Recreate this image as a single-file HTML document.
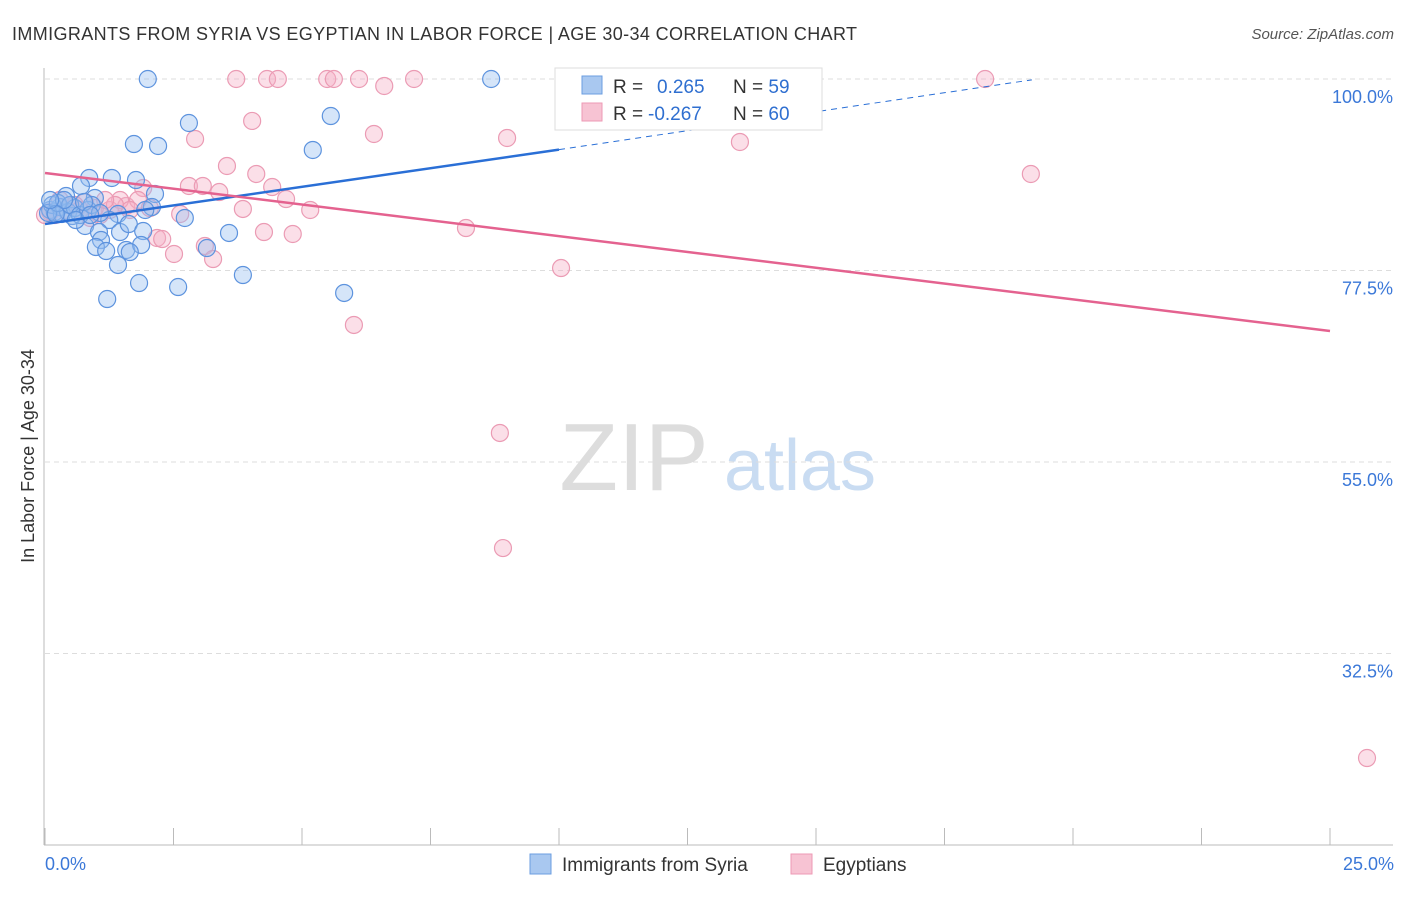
<!DOCTYPE html>
<html><head><meta charset="utf-8"><style>
body{margin:0;background:#fff;font-family:"Liberation Sans",sans-serif}
svg text{font-family:"Liberation Sans",sans-serif}
</style></head><body>
<svg id="c" width="1406" height="892">
<text x="12" y="40" font-size="18" fill="#333" textLength="845">IMMIGRANTS FROM SYRIA VS EGYPTIAN IN LABOR FORCE | AGE 30-34 CORRELATION CHART</text>
<text x="1394" y="39" font-size="15" fill="#555" font-style="italic" text-anchor="end">Source: ZipAtlas.com</text>
<text x="634" y="490" font-size="96" fill="#ddd" font-family="Liberation Serif" text-anchor="middle">ZIP</text>
<text x="800" y="490" font-size="72" fill="#c9dcf2" text-anchor="middle">atlas</text>
<g id="grid"></g><g id="pts"></g><g id="lines"></g>
<text x="34" y="456" font-size="18" fill="#333" transform="rotate(-90 34 456)" text-anchor="middle">In Labor Force | Age 30-34</text>
<text x="45" y="870" font-size="18" fill="#3b78d8">0.0%</text>
<text x="1394" y="870" font-size="18" fill="#3b78d8" text-anchor="end">25.0%</text>
<g>
<rect x="555" y="68" width="267" height="62" fill="#fff" stroke="#ddd"/>
<rect x="582" y="76" width="20" height="18" fill="#a9c8f0" stroke="#6b9ee0"/>
<rect x="582" y="103" width="20" height="18" fill="#f7c3d3" stroke="#ee9ab4"/>
<text x="613" y="93" font-size="19" fill="#333">R = <tspan fill="#2f6fd0" x="657">0.265</tspan><tspan x="733">N = </tspan><tspan fill="#2f6fd0">59</tspan></text>
<text x="613" y="120" font-size="19" fill="#333">R = <tspan fill="#2f6fd0" x="648">-0.267</tspan><tspan x="733">N = </tspan><tspan fill="#2f6fd0">60</tspan></text>
</g>
<g>
<rect x="530" y="854" width="21" height="20" fill="#a9c8f0" stroke="#6b9ee0"/>
<text x="562" y="871" font-size="19" fill="#333">Immigrants from Syria</text>
<rect x="791" y="854" width="21" height="20" fill="#f7c3d3" stroke="#ee9ab4"/>
<text x="823" y="871" font-size="19" fill="#333">Egyptians</text>
</g>
</svg>
<script>
const yTicks=[100,77.5,55,32.5];
const yTickLabels=["100.0%","77.5%","55.0%","32.5%"];
const blueX=[2.0,8.68,2.80,5.56,1.73,2.20,5.21,0.86,1.30,1.77,0.70,0.41,0.97,2.14,2.08,2.72,1.42,1.25,0.78,0.53,1.05,1.46,1.63,1.91,3.58,1.09,0.99,1.19,1.58,1.87,1.65,1.42,3.15,3.85,1.83,2.59,1.21,5.82,0.10,0.19,0.29,0.14,0.33,0.45,0.58,0.06,0.25,0.49,0.68,0.84,0.91,0.37,0.21,0.10,0.60,0.76,1.07,1.95,0.88];
const blueY=[100,100,94.83,95.65,92.36,92.13,91.66,88.37,88.37,88.13,87.43,86.25,86.02,86.49,84.96,83.67,84.14,83.43,82.73,83.90,82.02,82.02,82.96,82.14,81.91,81.08,80.26,79.79,79.91,80.50,79.67,78.15,80.14,76.97,76.03,75.56,74.15,74.86,84.61,84.37,84.96,85.20,84.14,84.37,84.84,84.26,85.43,85.20,84.02,84.61,85.20,85.78,84.14,85.78,83.43,85.55,84.26,84.61,84.02];
const pinkX=[3.72,4.32,4.53,5.49,5.62,6.11,7.18,6.60,10.39,18.29,4.03,2.92,6.40,8.99,13.52,3.54,4.11,19.18,1.91,2.80,3.07,3.39,4.42,4.69,3.85,5.16,8.19,4.26,4.82,2.18,2.63,2.28,3.11,2.51,3.27,10.04,6.01,8.85,8.91,25.72,1.58,1.81,1.26,0.97,0.78,0.58,0.39,0.19,0.10,0.29,0.49,1.07,1.46,1.65,2.04,1.36,0.88,0.68,1.17,0];
const pinkY=[100,100,100,100,100,100,100,99.18,100,100,95.07,92.95,93.54,93.07,92.60,89.78,88.84,88.84,87.19,87.43,87.43,86.72,87.31,85.90,84.73,84.61,82.49,82.02,81.79,81.32,84.14,81.20,80.38,79.44,78.85,77.79,71.10,58.41,44.89,20.22,85.08,85.78,84.61,84.84,85.55,85.20,84.61,84.02,84.37,85.78,85.20,84.02,85.78,84.61,84.84,85.20,83.67,84.61,85.78,84.02];
const blueTrend=[82.96,91.7,99.9]; const blueTrendX=[0,10,19.2];
const pinkTrend=[88.96,70.39]; const pinkTrendX=[0,25];
const xs=v=>45+v*51.4, ys=v=>79+(100-v)*8.511;
const NS="http://www.w3.org/2000/svg";
function mk(p,t,a){const e=document.createElementNS(NS,t);for(const k in a)e.setAttribute(k,a[k]);p.appendChild(e);return e;}
const grid=document.getElementById('grid');
yTicks.forEach((t,i)=>{
 const l=mk(grid,'line',{x1:45,x2:1393,y1:ys(t),y2:ys(t),stroke:'#ddd','stroke-dasharray':'5,4'});
 
 
 const tx=mk(grid,'text',{x:1393,y:ys(t)+24,'font-size':18,fill:'#3b78d8','text-anchor':'end'});tx.textContent=yTickLabels[i];
 
 
});
mk(grid,'line',{x1:44,x2:44,y1:68,y2:845,stroke:'#bbb'});
mk(grid,'line',{x1:44,x2:1393,y1:845,y2:845,stroke:'#bbb'});
for(let i=0;i<=10;i++){mk(grid,'line',{x1:xs(i*2.5),x2:xs(i*2.5),y1:828,y2:845,stroke:'#bbb'});}
const pts=document.getElementById('pts');
pinkX.forEach((x,i)=>{const c=mk(pts,'circle',{cx:xs(x),cy:ys(pinkY[i]),r:8.5,fill:'rgba(244,175,198,0.4)',stroke:'#eb9bb4','stroke-width':1.2});
 
 });
blueX.forEach((x,i)=>{const c=mk(pts,'circle',{cx:xs(x),cy:ys(blueY[i]),r:8.5,fill:'rgba(150,190,240,0.4)',stroke:'#5d93de','stroke-width':1.2});
 
 });
const ln=document.getElementById('lines');
const b1=mk(ln,'line',{x1:xs(blueTrendX[0]),y1:ys(blueTrend[0]),x2:xs(blueTrendX[1]),y2:ys(blueTrend[1]),stroke:'#2a6fd6','stroke-width':2.5});


const b2=mk(ln,'line',{x1:xs(blueTrendX[1]),y1:ys(blueTrend[1]),x2:xs(blueTrendX[2]),y2:ys(blueTrend[2]),stroke:'#2a6fd6','stroke-width':1,'stroke-dasharray':'6,5'});


const p1=mk(ln,'line',{x1:xs(pinkTrendX[0]),y1:ys(pinkTrend[0]),x2:xs(pinkTrendX[1]),y2:ys(pinkTrend[1]),stroke:'#e4628f','stroke-width':2.5});


</script>
</body></html>
